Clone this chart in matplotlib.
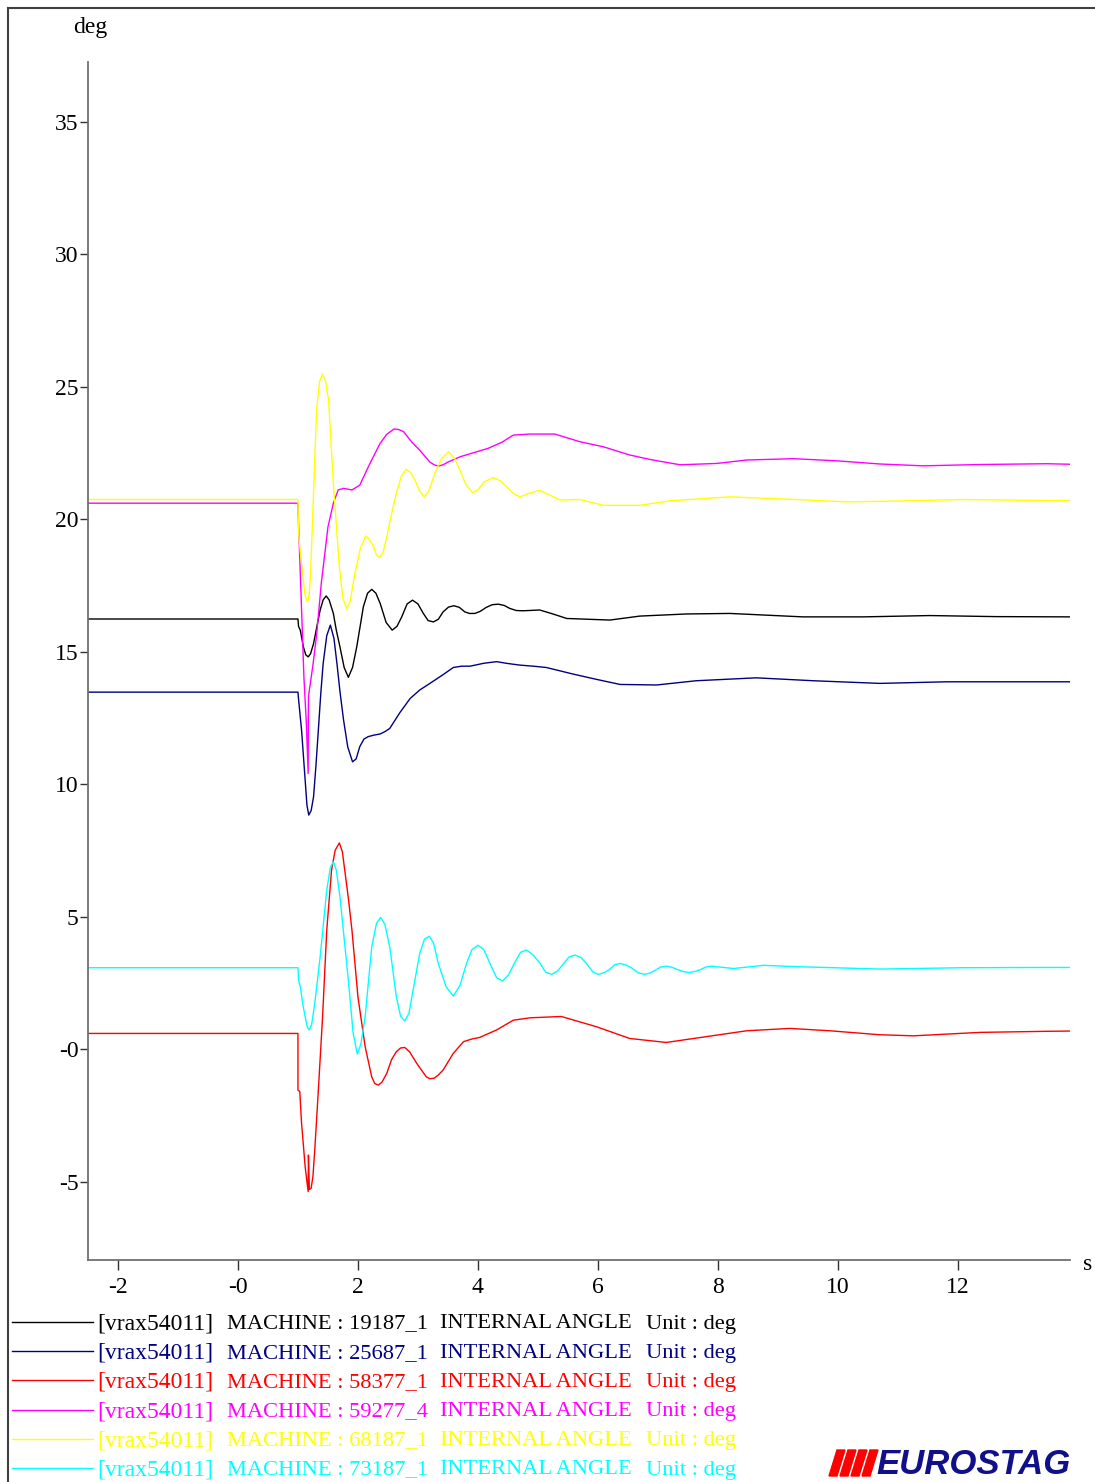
import numpy as np
import matplotlib.pyplot as plt
from matplotlib.patches import Polygon
from matplotlib.lines import Line2D

plt.rcParams['font.family'] = ['Liberation Serif', 'DejaVu Serif']

# machine internal angles: (time s, angle deg)
m_19187 = [(-2.5, 16.23), (1.0, 16.23), (1.01, 15.95), (1.04, 15.8), (1.09, 15.18), (1.13, 14.88),
           (1.17, 14.8), (1.21, 14.92), (1.26, 15.3), (1.32, 16.0), (1.37, 16.57), (1.42, 16.95),
           (1.47, 17.1), (1.52, 16.95), (1.59, 16.44), (1.64, 15.8), (1.70, 15.18), (1.77, 14.4),
           (1.84, 14.03), (1.91, 14.4), (1.98, 15.18), (2.04, 16.0), (2.09, 16.69), (2.16, 17.2),
           (2.23, 17.35), (2.30, 17.2), (2.37, 16.82), (2.47, 16.1), (2.57, 15.81), (2.65, 15.95),
           (2.73, 16.31), (2.82, 16.8), (2.91, 16.94), (3.00, 16.8), (3.09, 16.44), (3.17, 16.17),
           (3.26, 16.12), (3.34, 16.22), (3.42, 16.5), (3.51, 16.68), (3.60, 16.73), (3.69, 16.67),
           (3.78, 16.5), (3.86, 16.44), (3.95, 16.44), (4.04, 16.52), (4.14, 16.67), (4.24, 16.77),
           (4.34, 16.79), (4.44, 16.74), (4.53, 16.63), (4.64, 16.55), (4.75, 16.54), (5.03, 16.57),
           (5.25, 16.42), (5.48, 16.25), (6.20, 16.19), (6.70, 16.34), (7.48, 16.42), (8.20, 16.44),
           (9.42, 16.31), (10.42, 16.31), (11.53, 16.36), (12.64, 16.32), (13.87, 16.31)]

m_25687 = [(-2.5, 13.47), (1.0, 13.47), (1.01, 13.2), (1.06, 12.04), (1.12, 10.15), (1.15, 9.2),
           (1.18, 8.83), (1.22, 9.0), (1.26, 9.52), (1.30, 10.7), (1.34, 12.04), (1.38, 13.4),
           (1.42, 14.55), (1.48, 15.6), (1.54, 16.0), (1.60, 15.5), (1.65, 14.55), (1.70, 13.5),
           (1.76, 12.42), (1.83, 11.4), (1.91, 10.84), (1.97, 10.95), (2.03, 11.41), (2.10, 11.7),
           (2.17, 11.79), (2.27, 11.85), (2.37, 11.89), (2.45, 11.98), (2.53, 12.1), (2.70, 12.7),
           (2.87, 13.23), (3.03, 13.55), (3.20, 13.8), (3.40, 14.1), (3.59, 14.4), (3.73, 14.45),
           (3.87, 14.45), (4.10, 14.56), (4.31, 14.62), (4.50, 14.55), (4.70, 14.49), (4.92, 14.45),
           (5.14, 14.4), (5.59, 14.15), (5.98, 13.95), (6.37, 13.76), (6.98, 13.74), (7.64, 13.9),
           (8.64, 14.01), (9.59, 13.9), (10.70, 13.8), (11.81, 13.86), (13.87, 13.86)]

m_58377 = [(-2.5, 0.59), (1.0, 0.59), (1.0, -1.55), (1.03, -1.6), (1.06, -2.8), (1.12, -4.44),
           (1.17, -5.38), (1.175, -4.0), (1.19, -5.3), (1.22, -5.25), (1.25, -4.8), (1.28, -3.81),
           (1.34, -1.55), (1.41, 1.2), (1.48, 4.49), (1.56, 6.75), (1.62, 7.5), (1.69, 7.78),
           (1.74, 7.45), (1.78, 6.75), (1.84, 5.7), (1.90, 4.49), (2.00, 1.97), (2.12, 0.09),
           (2.23, -1.05), (2.28, -1.3), (2.34, -1.36), (2.40, -1.25), (2.48, -0.92), (2.56, -0.4),
           (2.64, -0.1), (2.71, 0.04), (2.78, 0.06), (2.86, -0.1), (2.98, -0.54), (3.14, -1.05),
           (3.20, -1.12), (3.27, -1.1), (3.34, -0.98), (3.42, -0.79), (3.59, -0.16), (3.76, 0.28),
           (3.90, 0.38), (4.03, 0.44), (4.31, 0.72), (4.59, 1.09), (4.87, 1.18), (5.39, 1.23),
           (5.98, 0.84), (6.53, 0.4), (7.14, 0.25), (7.81, 0.47), (8.48, 0.69), (9.20, 0.78),
           (9.87, 0.69), (10.70, 0.54), (11.26, 0.5), (12.37, 0.63), (13.48, 0.67), (13.87, 0.68)]

m_59277 = [(-2.5, 20.6), (1.0, 20.6), (1.01, 19.8), (1.06, 16.6), (1.10, 14.0), (1.14, 12.3),
           (1.17, 10.4), (1.175, 13.3), (1.25, 14.5), (1.31, 15.6), (1.39, 17.6), (1.50, 19.7),
           (1.59, 20.6), (1.67, 21.1), (1.76, 21.16), (1.90, 21.1), (2.03, 21.28), (2.20, 22.1),
           (2.37, 22.86), (2.48, 23.2), (2.60, 23.4), (2.68, 23.38), (2.76, 23.3), (2.90, 22.9),
           (3.03, 22.6), (3.20, 22.15), (3.27, 22.05), (3.34, 22.0), (3.42, 22.05), (3.50, 22.15),
           (3.70, 22.35), (3.92, 22.5), (4.17, 22.67), (4.40, 22.9), (4.59, 23.17), (4.87, 23.21),
           (5.28, 23.21), (5.70, 22.92), (6.09, 22.73), (6.53, 22.42), (6.87, 22.25), (7.37, 22.05),
           (7.98, 22.1), (8.48, 22.23), (9.26, 22.28), (9.98, 22.2), (10.70, 22.08), (11.42, 22.01),
           (12.37, 22.06), (13.48, 22.09), (13.87, 22.07)]

m_68187 = [(-2.5, 20.74), (1.0, 20.74), (1.01, 19.5), (1.03, 18.96), (1.09, 17.7), (1.12, 17.1),
           (1.16, 16.88), (1.19, 17.2), (1.21, 17.95), (1.26, 20.97), (1.31, 24.1), (1.36, 25.2),
           (1.41, 25.47), (1.46, 25.2), (1.51, 24.5), (1.59, 21.35), (1.69, 18.2), (1.75, 17.0),
           (1.81, 16.63), (1.87, 16.9), (1.95, 17.95), (2.04, 18.9), (2.13, 19.37), (2.20, 19.2),
           (2.26, 18.96), (2.31, 18.65), (2.36, 18.55), (2.42, 18.75), (2.48, 19.33), (2.56, 20.2),
           (2.64, 20.97), (2.72, 21.6), (2.80, 21.88), (2.88, 21.75), (2.95, 21.47), (3.03, 21.05),
           (3.10, 20.84), (3.18, 21.05), (3.28, 21.72), (3.40, 22.3), (3.51, 22.54), (3.61, 22.3),
           (3.70, 21.85), (3.80, 21.3), (3.91, 21.0), (4.00, 21.1), (4.10, 21.4), (4.26, 21.57),
           (4.37, 21.45), (4.48, 21.22), (4.60, 20.95), (4.70, 20.84), (4.87, 20.99), (5.03, 21.09),
           (5.20, 20.9), (5.37, 20.72), (5.70, 20.74), (6.09, 20.52), (6.70, 20.52), (7.20, 20.69),
           (8.20, 20.84), (9.31, 20.74), (10.14, 20.65), (10.98, 20.68), (12.09, 20.74),
           (13.48, 20.7), (13.87, 20.7)]

m_73187 = [(-2.5, 3.07), (1.0, 3.07), (1.01, 2.6), (1.04, 2.35), (1.08, 1.7), (1.12, 1.22),
           (1.16, 0.8), (1.19, 0.72), (1.23, 0.95), (1.28, 1.72), (1.37, 3.48), (1.48, 6.0),
           (1.54, 6.85), (1.59, 7.07), (1.64, 6.75), (1.70, 5.75), (1.84, 2.6), (1.92, 0.6),
           (1.99, -0.19), (2.05, 0.2), (2.12, 1.22), (2.23, 3.86), (2.31, 4.75), (2.38, 4.97),
           (2.45, 4.7), (2.53, 3.86), (2.64, 1.97), (2.71, 1.25), (2.78, 1.06), (2.85, 1.35),
           (2.92, 2.23), (3.03, 3.61), (3.11, 4.15), (3.19, 4.26), (3.26, 4.0), (3.34, 3.23),
           (3.47, 2.35), (3.59, 2.0), (3.70, 2.4), (3.81, 3.23), (3.90, 3.75), (4.00, 3.92),
           (4.10, 3.75), (4.20, 3.23), (4.31, 2.7), (4.41, 2.57), (4.51, 2.8), (4.62, 3.29),
           (4.71, 3.65), (4.81, 3.74), (4.92, 3.55), (5.03, 3.25), (5.13, 2.9), (5.23, 2.82),
           (5.33, 2.95), (5.42, 3.2), (5.52, 3.48), (5.62, 3.55), (5.72, 3.45), (5.82, 3.2),
           (5.92, 2.9), (6.01, 2.82), (6.10, 2.88), (6.19, 3.0), (6.28, 3.18), (6.37, 3.23),
           (6.47, 3.17), (6.57, 3.05), (6.67, 2.88), (6.78, 2.82), (6.87, 2.87), (6.96, 2.98),
           (7.05, 3.1), (7.14, 3.13), (7.24, 3.08), (7.33, 3.0), (7.43, 2.92), (7.53, 2.89),
           (7.62, 2.93), (7.71, 3.0), (7.80, 3.1), (7.89, 3.13), (8.26, 3.04), (8.76, 3.16),
           (9.31, 3.11), (10.70, 3.02), (12.09, 3.07), (13.48, 3.08), (13.87, 3.08)]

machines = ['19187_1', '25687_1', '58377_1', '59277_4', '68187_1', '73187_1']
colors = ['#000000', '#000080', '#ff0000', '#ff00ff', '#ffff00', '#00ffff']
series = [m_19187, m_25687, m_58377, m_59277, m_68187, m_73187]

yticks = [35, 30, 25, 20, 15, 10, 5, 0, -5]
ytick_labels = ['35', '30', '25', '20', '15', '10', '5', '-0', '-5']
xticks = [-2, 0, 2, 4, 6, 8, 10, 12]
xtick_labels = ['-2', '-0', '2', '4', '6', '8', '10', '12']

W, H = 1095, 1482
fig = plt.figure(figsize=(W / 100, H / 100), dpi=100)

def fx(x):
    return x / W

def fy(y):
    return 1 - y / H

ax = fig.add_axes([fx(88), fy(1260), fx(1070) - fx(88), fy(62) - fy(1260)])
for data, c in zip(series, colors):
    t, y = np.array(data).T
    ax.plot(t, y, color=c, lw=1.0)

ax.set_xlim(-2.5, 13.87)
ax.set_ylim(-7.96, 37.25)
ax.set_yticks(yticks)
ax.set_yticklabels(ytick_labels)
ax.set_xticks(xticks)
ax.set_xticklabels(xtick_labels)
ax.spines['top'].set_visible(False)
ax.spines['right'].set_visible(False)
for s in ['left', 'bottom']:
    ax.spines[s].set_color('#707070')
    ax.spines[s].set_linewidth(1.3)
ax.tick_params(axis='y', direction='out', length=6, width=1, color='#303030', pad=1,
               labelsize=17)
ax.tick_params(axis='x', direction='out', length=7, width=1, color='#303030', pad=5,
               labelsize=17)

fig.text(fx(90), fy(27), 'deg', fontsize=17, ha='center', va='center')
fig.text(fx(1088), fy(1265), 's', fontsize=17, ha='center', va='center')

# outer frame (left and top edges)
fig.add_artist(Line2D([fx(8), fx(8)], [0, fy(8)], color='#404040', lw=1.5))
fig.add_artist(Line2D([fx(8), 1], [fy(8), fy(8)], color='#404040', lw=1.5))

# legend rows
for i, (m, c) in enumerate(zip(machines, colors)):
    yy = 1324 + i * 29.2
    fig.add_artist(Line2D([fx(12), fx(93)], [fy(yy - 2), fy(yy - 2)], color=c, lw=1.0))
    fig.text(fx(97), fy(yy), '[vrax54011]', color=c, fontsize=17, va='center')
    fig.text(fx(227), fy(yy), 'MACHINE : ' + m, color=c, fontsize=16.2, va='center')
    fig.text(fx(440), fy(yy), 'INTERNAL ANGLE', color=c, fontsize=16.2, va='center')
    fig.text(fx(646), fy(yy), 'Unit : deg', color=c, fontsize=16.2, va='center')

# EUROSTAG logo
for k in range(4):
    x0 = 829 + k * 11
    pts = [(x0, 1476), (x0 + 8, 1476), (x0 + 16, 1450), (x0 + 8, 1450)]
    fig.add_artist(Polygon([(fx(a), fy(b)) for a, b in pts], closed=True,
                           color='#ff0000', transform=fig.transFigure))
fig.text(fx(876), fy(1474), 'EUROSTAG', fontsize=25, color='#10108a', fontweight='bold',
         fontstyle='italic', family='Liberation Sans', ha='left', va='baseline')

plt.savefig('out.png', dpi=100)
